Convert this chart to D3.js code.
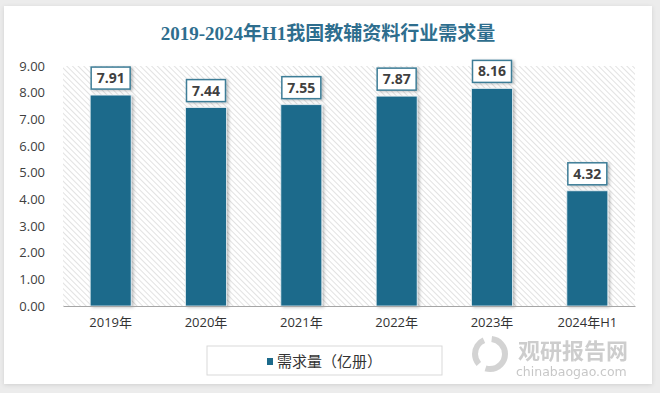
<!DOCTYPE html>
<html>
<head>
<meta charset="utf-8">
<script src="https://cdn.jsdelivr.net/npm/d3@7"></script>
<style>
  body { margin: 0; background: #ececec; }
  svg { display: block; }
</style>
</head>
<body>
<div id="chart"></div>
<script>
// data
var categories = ['2019年', '2020年', '2021年', '2022年', '2023年', '2024年H1'];
var demand = [7.91, 7.44, 7.55, 7.87, 8.16, 4.32];
var yTicks = [0, 1, 2, 3, 4, 5, 6, 7, 8, 9];
var title = '2019-2024年H1我国教辅资料行业需求量';
var seriesName = '需求量（亿册）';

var width = 660, height = 393;
var plot = { left: 63, right: 635, top: 66, bottom: 306 };
var barColor = '#1c6a8b';

var svg = d3.select('#chart').append('svg')
  .attr('width', width)
  .attr('height', height);

var defs = svg.append('defs');
var hatch = defs.append('pattern')
  .attr('id', 'hatch')
  .attr('patternUnits', 'userSpaceOnUse')
  .attr('width', 4).attr('height', 4)
  .attr('patternTransform', 'rotate(-45)');
hatch.append('rect').attr('width', 4).attr('height', 4).attr('fill', '#fff');
hatch.append('line')
  .attr('x1', 0).attr('y1', 0).attr('x2', 0).attr('y2', 4)
  .attr('stroke', '#cfcfcf').attr('stroke-width', 1.2);

var shadow = defs.append('filter').attr('id', 'shadow')
  .attr('x', '-20%').attr('y', '-20%').attr('width', '150%').attr('height', '150%');
shadow.append('feDropShadow')
  .attr('dx', 2).attr('dy', 1).attr('stdDeviation', 1.5)
  .attr('flood-color', '#000').attr('flood-opacity', 0.25);

var cardShadow = defs.append('filter').attr('id', 'cardShadow')
  .attr('x', '-5%').attr('y', '-5%').attr('width', '110%').attr('height', '110%');
cardShadow.append('feDropShadow')
  .attr('dx', 0).attr('dy', 1).attr('stdDeviation', 2)
  .attr('flood-color', '#000').attr('flood-opacity', 0.12);

// card
svg.append('rect')
  .attr('x', 4).attr('y', 6)
  .attr('width', 648).attr('height', 378)
  .attr('fill', '#fff')
  .attr('filter', 'url(#cardShadow)');

// title
svg.append('text')
  .attr('x', 328).attr('y', 40)
  .attr('text-anchor', 'middle')
  .attr('font-family', '"Liberation Serif", "Noto Sans CJK SC", serif')
  .attr('font-weight', 'bold')
  .attr('font-size', 19)
  .attr('fill', '#2e6e8e')
  .text(title);

var x = d3.scaleBand()
  .domain(categories)
  .range([plot.left, plot.right])
  .paddingInner(0.57)
  .paddingOuter(0.285);

var y = d3.scaleLinear()
  .domain([0, 9])
  .range([plot.bottom, plot.top]);

// hatched plot area
svg.append('rect')
  .attr('x', plot.left).attr('y', plot.top)
  .attr('width', plot.right - plot.left)
  .attr('height', plot.bottom - plot.top)
  .attr('fill', 'url(#hatch)');

// y axis labels
var yAxis = svg.append('g')
  .attr('transform', 'translate(' + 45 + ',0)')
  .call(d3.axisLeft(y).tickValues(yTicks).tickFormat(d3.format('.2f')).tickSize(0).tickPadding(0));
yAxis.select('.domain').remove();
yAxis.selectAll('text')
  .attr('font-family', '"Open Sans", "Liberation Sans", sans-serif')
  .attr('font-size', 13)
  .attr('fill', '#404040');

// bars
svg.append('g').selectAll('rect')
  .data(demand)
  .enter().append('rect')
  .attr('x', function(d, i) { return x(categories[i]); })
  .attr('y', function(d) { return y(d); })
  .attr('width', x.bandwidth())
  .attr('height', function(d) { return y(0) - y(d); })
  .attr('fill', barColor)
  .attr('stroke', '#e8f0f4')
  .attr('stroke-width', 0.8)
  .attr('filter', 'url(#shadow)');

// x axis
var xAxis = svg.append('g')
  .attr('transform', 'translate(0,' + plot.bottom + ')')
  .call(d3.axisBottom(x).tickSize(0).tickPadding(12));
xAxis.select('.domain')
  .attr('stroke', '#a6a6a6')
  .attr('stroke-width', 1);
xAxis.selectAll('text')
  .attr('font-family', '"Open Sans", "Noto Sans CJK SC", sans-serif')
  .attr('font-size', 13)
  .attr('fill', '#333');

// value labels
var labels = svg.append('g').selectAll('g')
  .data(demand)
  .enter().append('g')
  .attr('transform', function(d, i) {
    return 'translate(' + (x(categories[i]) + x.bandwidth() / 2) + ',' + (y(d) - 17) + ')';
  });
labels.append('rect')
  .attr('x', -x.bandwidth() / 2 + 1)
  .attr('y', -11)
  .attr('width', x.bandwidth() - 2)
  .attr('height', 22)
  .attr('fill', '#fff')
  .attr('stroke', '#3d7d97')
  .attr('stroke-width', 1.5)
  .attr('filter', 'url(#shadow)');
labels.append('text')
  .attr('text-anchor', 'middle')
  .attr('dy', '0.36em')
  .attr('font-family', '"Open Sans", "Liberation Sans", sans-serif')
  .attr('font-weight', 'bold')
  .attr('font-size', 14)
  .attr('fill', '#404040')
  .text(function(d) { return d3.format('.2f')(d); });

// legend
var legend = svg.append('g');
legend.append('rect')
  .attr('x', 207).attr('y', 346)
  .attr('width', 235).attr('height', 29)
  .attr('fill', '#fff')
  .attr('stroke', '#d9d9d9');
legend.append('rect')
  .attr('x', 267).attr('y', 358)
  .attr('width', 6).attr('height', 7)
  .attr('fill', barColor);
legend.append('text')
  .attr('x', 277).attr('y', 367)
  .attr('font-family', '"Noto Sans CJK SC", sans-serif')
  .attr('font-size', 15)
  .attr('fill', '#333')
  .text(seriesName);

// watermark
var wm = svg.append('g').attr('opacity', 0.75);
wm.append('circle')
  .attr('cx', 490).attr('cy', 354).attr('r', 15)
  .attr('fill', 'none').attr('stroke', '#c4c4c4').attr('stroke-width', 6)
  .attr('stroke-dasharray', '28 8');
wm.append('text')
  .attr('x', 518).attr('y', 359)
  .attr('font-family', '"Noto Sans CJK SC", sans-serif')
  .attr('font-weight', 'bold')
  .attr('font-size', 22)
  .attr('fill', '#bdbdbd')
  .text('观研报告网');
wm.append('text')
  .attr('x', 516).attr('y', 376)
  .attr('font-family', '"DejaVu Sans", sans-serif')
  .attr('font-size', 12.5)
  .attr('fill', '#b5b5b5')
  .text('chinabaogao.com');
</script>
</body>
</html>
